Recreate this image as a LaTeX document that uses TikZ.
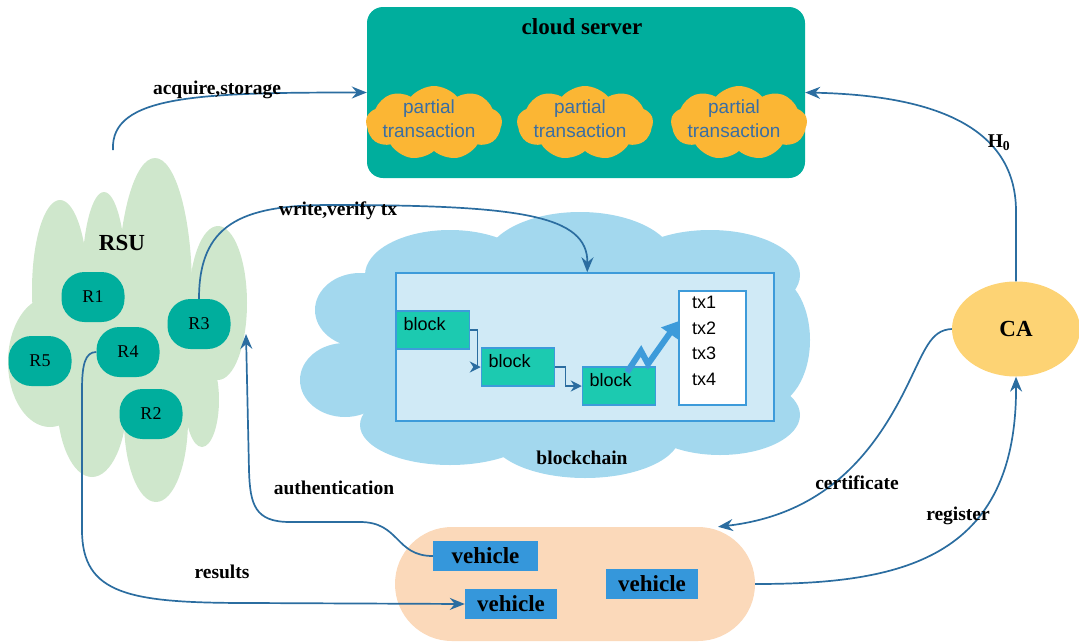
\documentclass[tikz,border=0pt]{standalone}
\usepackage{fontspec}
\setmainfont{Liberation Serif}
\newfontfamily\helv{Liberation Sans}
\usetikzlibrary{arrows.meta,shapes.symbols,shapes.geometric,calc}

\definecolor{serverteal}{HTML}{00AE9D}
\definecolor{txorange}{HTML}{FBB634}
\definecolor{txtext}{HTML}{3A6EA3}
\definecolor{rsugreen}{HTML}{CFE7CC}
\definecolor{chainblue}{HTML}{A3D8EE}
\definecolor{panelblue}{HTML}{D0EAF6}
\definecolor{edgeblue}{HTML}{3D9BDA}
\definecolor{blockgreen}{HTML}{1CCAB0}
\definecolor{cayellow}{HTML}{FDD374}
\definecolor{peach}{HTML}{FBD9BA}
\definecolor{carblue}{HTML}{3597DB}
\definecolor{linkblue}{HTML}{2B6DA0}

\tikzset{
  link/.style={draw=linkblue, line width=1.7pt, -{Stealth[length=15pt,width=12pt,inset=5pt]}},
  lbl/.style={font=\bfseries\fontsize{19.5}{22}\selectfont, inner sep=0pt},
  title/.style={font=\bfseries\fontsize{23}{26}\selectfont, inner sep=0pt},
  rsucell/.style={fill=serverteal, rounded corners=23pt, minimum width=63pt,
    minimum height=50pt, inner sep=0pt, font=\fontsize{18}{20}\selectfont},
  ptx/.style={cloud, cloud puffs=9, cloud puff arc=100, aspect=1.8, fill=txorange,
    minimum width=136pt, minimum height=74pt, inner sep=0pt},
  ptxtext/.style={align=center, inner sep=0pt, text=txtext,
    font=\helv\fontsize{19}{24}\selectfont},
  blockbox/.style={fill=blockgreen, draw=edgeblue, line width=1.5pt, text width=59pt,
    inner xsep=7pt, align=left, minimum height=38pt, text depth=12pt,
    font=\helv\fontsize{18}{20}\selectfont},
  chainlink/.style={draw=linkblue, line width=1.2pt, -{Stealth[length=11pt,width=11pt]}},
  car/.style={fill=carblue, inner sep=0pt, minimum height=30pt,
    font=\bfseries\fontsize{23}{26}\selectfont}
}

\begin{document}
\begin{tikzpicture}[x=1pt,y=-1pt]
\useasboundingbox (0,0) rectangle (1079,643);

% ---------- RSU cluster (green cloud) ----------
\begin{scope}[rsugreen]
  \fill (155,290) ellipse [x radius=37, y radius=132];
  \fill (104,280) ellipse [x radius=22, y radius=88];
  \fill (60,290) ellipse [x radius=28, y radius=90];
  \fill (218,303) ellipse [x radius=29, y radius=77];
  \fill (50,362) ellipse [x radius=42, y radius=65];
  \fill (202,400) ellipse [x radius=17, y radius=47];
  \fill (156,420) ellipse [x radius=32, y radius=82];
  \fill (92,400) ellipse [x radius=35, y radius=77];
  \fill (130,330) ellipse [x radius=80, y radius=90];
\end{scope}
\node[title] (rsu) at (122,243) {RSU};
\node[rsucell] (r1) at (93,297) {R1};
\node[rsucell] (r3) at (199,324) {R3};
\node[rsucell] (r4) at (128,352) {R4};
\node[rsucell] (r5) at (40,361) {R5};
\node[rsucell] (r2) at (151,414) {R2};

% ---------- blockchain (blue cloud) ----------
\begin{scope}[chainblue]
  \fill (555,345) ellipse [x radius=210, y radius=105];
  \fill (450,275) ellipse [x radius=85, y radius=45];
  \fill (580,262) ellipse [x radius=95, y radius=50];
  \fill (710,275) ellipse [x radius=90, y radius=45];
  \fill (770,340) ellipse [x radius=40, y radius=65];
  \fill (360,310) ellipse [x radius=45, y radius=37];
  \fill (345,380) ellipse [x radius=45, y radius=37];
  \fill (450,425) ellipse [x radius=90, y radius=40];
  \fill (585,435) ellipse [x radius=95, y radius=43];
  \fill (720,415) ellipse [x radius=80, y radius=40];
\end{scope}
\node[fill=panelblue, draw=edgeblue, line width=1.5pt, minimum width=378pt,
  minimum height=148pt] (inner) at (585,347) {};
\node[blockbox] (b1) at (433,330) {block};
\node[blockbox] (b2) at (518,367) {block};
\node[blockbox] (b3) at (619,386) {block};
\node[fill=white, draw=edgeblue, line width=1.5pt, minimum width=67pt,
  minimum height=114pt] (txs) at (712.5,348) {};
\node[anchor=north west, align=left, inner sep=0pt,
  font=\helv\fontsize{18}{25.5}\selectfont] (txlist) at (692,296)
  {tx1\\tx2\\tx3\\tx4};
\node[lbl] (chainlbl) at (582,458) {blockchain};

\draw[chainlink] (b1.east) -- ++(7,0) |- (b2.west);
\draw[chainlink] (b2.east) -- ++(10,0) |- (b3.west);
\draw[draw=edgeblue, line width=6pt, -{Triangle[length=15pt,width=20pt]}]
  ($(b3.north)+(8,6)$) -- (641,351) -- (648,364) -- ($(txs.north west)+(0,31)$);

% ---------- cloud server ----------
\node[fill=serverteal, rounded corners=16pt, minimum width=438pt,
  minimum height=171pt] (server) at (586,92.5) {};
\node[title] (servertitle) at (582,27) {cloud server};
\node[ptx] (p1) at (434,123) {};
\node[ptx] (p2) at (585,123) {};
\node[ptx] (p3) at (739,123) {};
\node[ptxtext] at ($(p1)+(-5,-4)$) {partial\\transaction};
\node[ptxtext] at ($(p2)+(-5,-4)$) {partial\\transaction};
\node[ptxtext] at ($(p3)+(-5,-4)$) {partial\\transaction};

% ---------- CA ----------
\node[ellipse, fill=cayellow, minimum width=128pt, minimum height=95pt,
  font=\bfseries\fontsize{23}{26}\selectfont] (ca) at (1016,329) {CA};

% ---------- vehicles ----------
\node[fill=peach, rounded corners=56.9pt, minimum width=360pt,
  minimum height=114pt] (vehbg) at (575,584) {};
\node[car, minimum width=105pt] (v1) at (485.5,556) {vehicle};
\node[car, minimum width=92pt] (v2) at (511,604) {vehicle};
\node[car, minimum width=92pt] (v3) at (652,584) {vehicle};

% ---------- connectors ----------
\coordinate (rsutop) at (113,150);
\coordinate (wvend) at ($(inner.north west)+(192,0)$);
\coordinate (certend) at ($(vehbg.north)+(143,0)$);
\coordinate (authend) at (246,334);

\draw[link] (rsutop) .. controls (110,95) and (200,92.5) .. (server.west);
\node[lbl] (acq) at (217,90) {acquire,storage};

\draw[link] (r3.north) .. controls (199,225) and (240,205) .. (330,205)
  .. controls (520,205) and (588,215) .. (wvend);
\node[lbl] (wv) at (338,211) {write,verify tx};

\draw[link] (ca.north) -- ++(0,-70) .. controls (1016,120) and (920,95) .. (server.east);
\node[lbl] (h0) at (999,143) {H\textsubscript{0}};

\draw[link] (ca.west) .. controls (930,330) and (925,350) .. (905,390)
  .. controls (870,460) and (820,515) .. (certend);
\node[lbl] (cert) at (857,483) {certificate};

\draw[link] (vehbg.east) .. controls (900,584) and (1017,560) .. (ca.south);
\node[lbl] (reg) at (958,516) {register};

\draw[link] (v1.west) .. controls (395,556) and (400,522) .. (360,522) -- (290,522)
  .. controls (255,522) and (250,505) .. (249,470) -- (authend);
\node[lbl] (auth) at (334,488) {authentication};

\draw[link] (r4.west) .. controls (85,352) and (82,365) .. (82,390) -- (82,530)
  .. controls (82,595) and (130,603) .. (250,603) -- (v2.west);
\node[lbl] (res) at (222,572) {results};
\end{tikzpicture}
\end{document}
